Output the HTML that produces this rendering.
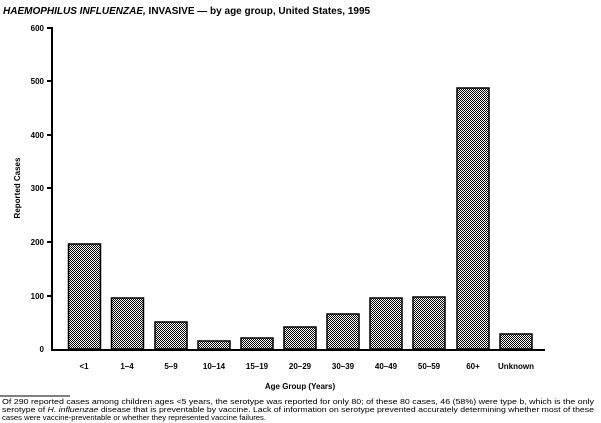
<!DOCTYPE html>
<html><head><style>body{margin:0;background:#fff}svg{display:block}text{font-family:"Liberation Sans",sans-serif}</style></head><body>
<svg width="601" height="423" viewBox="0 0 601 423">
<defs><pattern id="p" width="2" height="2" patternUnits="userSpaceOnUse"><rect width="2" height="2" fill="#fff"/><rect width="1" height="1" fill="#000"/><rect x="1" y="1" width="1" height="1" fill="#000"/></pattern></defs>
<text x="3" y="14" font-size="10" font-weight="bold"><tspan font-style="italic">HAEMOPHILUS INFLUENZAE,</tspan> INVASIVE — by age group, United States, 1995</text>
<g stroke="#000" stroke-width="2" fill="none">
<line x1="52" y1="27" x2="52" y2="350"/>
<line x1="51" y1="350" x2="545" y2="350"/>
<line x1="47" y1="28" x2="52" y2="28"/><line x1="47" y1="81" x2="52" y2="81"/><line x1="47" y1="135" x2="52" y2="135"/><line x1="47" y1="188" x2="52" y2="188"/><line x1="47" y1="242" x2="52" y2="242"/><line x1="47" y1="296" x2="52" y2="296"/>
</g>
<g font-size="8" font-weight="bold" text-anchor="end">
<text x="44" y="31">600</text><text x="44" y="84">500</text><text x="44" y="138">400</text><text x="44" y="191">300</text><text x="44" y="245">200</text><text x="44" y="299">100</text><text x="44" y="352">0</text>
</g>
<text transform="translate(20,188) rotate(-90)" font-size="8" font-weight="bold" text-anchor="middle">Reported Cases</text>
<g fill="url(#p)" stroke="#000" stroke-width="1.5">
<rect x="68.5" y="244" width="32" height="105"/>
<rect x="111.5" y="298" width="32" height="51"/>
<rect x="155" y="322" width="32" height="27"/>
<rect x="198" y="341" width="32" height="8"/>
<rect x="241" y="338" width="32" height="11"/>
<rect x="284" y="327" width="32" height="22"/>
<rect x="327" y="314" width="32" height="35"/>
<rect x="370" y="298" width="32" height="51"/>
<rect x="413" y="297" width="32" height="52"/>
<rect x="457" y="88" width="32" height="261"/>
<rect x="500" y="334" width="32" height="15"/>
</g>
<g font-size="8" font-weight="bold" text-anchor="middle">
<text x="84" y="369">&lt;1</text><text x="127" y="369">1–4</text><text x="171" y="369">5–9</text><text x="214" y="369">10–14</text><text x="257" y="369">15–19</text><text x="300" y="369">20–29</text><text x="343" y="369">30–39</text><text x="386" y="369">40–49</text><text x="429" y="369">50–59</text><text x="473" y="369">60+</text><text x="516" y="369">Unknown</text>
<text x="300" y="389">Age Group (Years)</text>
</g>
<line x1="0" y1="396" x2="70" y2="396" stroke="#000" stroke-width="1"/>
<g font-size="7.2">
<text x="2" y="404" textLength="592" lengthAdjust="spacingAndGlyphs">Of 290 reported cases among children ages &lt;5 years, the serotype was reported for only 80; of these 80 cases, 46 (58%) were type b, which is the only</text>
<text x="2" y="412" textLength="592" lengthAdjust="spacingAndGlyphs">serotype of <tspan font-style="italic">H. influenzae</tspan> disease that is preventable by vaccine. Lack of information on serotype prevented accurately determining whether most of these</text>
<text x="2" y="420" textLength="264" lengthAdjust="spacingAndGlyphs">cases were vaccine-preventable or whether they represented vaccine failures.</text>
</g>
</svg>
</body></html>
